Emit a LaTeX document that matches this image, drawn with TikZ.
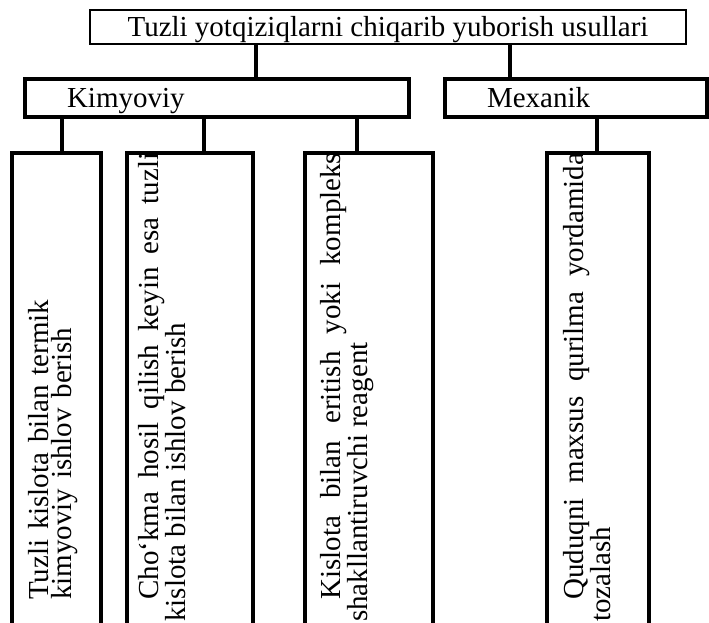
\documentclass[tikz,border=0pt]{standalone}
\usepackage{fontspec}
\setmainfont{Liberation Serif}
\usepackage{tikz}

\begin{document}
\begin{tikzpicture}[x=1pt, y=-1pt,
  sarlavha/.style={draw, line width=1.2pt, outer sep=0pt, inner sep=0pt,
                   minimum width=596pt, minimum height=34pt,
                   text height=22pt, text depth=2pt,
                   font=\fontsize{29}{34}\selectfont},
  tur/.style={draw, line width=3.5pt, outer sep=0pt, inner xsep=42pt,
              inner ysep=0pt, minimum height=38pt, align=left,
              text height=22pt, text depth=2pt,
              anchor=north west, font=\fontsize{29}{34}\selectfont},
  usul/.style={draw, line width=3.5pt, outer sep=0pt, minimum height=480pt,
               anchor=north west},
  matn/.style={rotate=90, anchor=north west, inner sep=0pt,
               font=\fontsize{29}{23}\selectfont},
  chiziq/.style={line width=3.5pt}]
  \useasboundingbox (0,0) rectangle (709,623);
  \clip (0,0) rectangle (709,623);
  % sarlavha va ikki tur
  \node[sarlavha] (bosh) at (388,27)
    {Tuzli yotqiziqlarni chiqarib yuborish usullari};
  \node[tur, text width=300pt] (kimyo) at (25,79) {Kimyoviy};
  \node[tur, text width=178pt] (mexan) at (445,79) {Mexanik};
  % usullar
  \node[usul, minimum width=89pt] (u1) at (12,153) {};
  \node[usul, minimum width=126pt] (u2) at (127,153) {};
  \node[usul, minimum width=128pt] (u3) at (305,153) {};
  \node[usul, minimum width=102pt] (u4) at (547,153) {};
  \node[matn, text width=320pt, align=left] (m1) at (28,600)
    {Tuzli kislota bilan termik\\kimyoviy ishlov berish};
  \node[matn, text width=469pt, align=justify] (m2) at (138,622)
    {\hspace*{22pt}Cho‘kma hosil qilish keyin esa tuzli kislota bilan ishlov berish};
  \node[matn, text width=469pt, align=justify] (m3) at (320,622)
    {\hspace*{22pt}Kislota bilan eritish yoki kompleks shakllantiruvchi reagent};
  \node[matn, text width=469pt, align=justify] (m4) at (563,622)
    {\hspace*{22pt}Quduqni maxsus qurilma yordamida tozalash};
  % bog'lovchi chiziqlar
  \foreach \a/\b/\x in {bosh/kimyo/256, bosh/mexan/510, kimyo/u1/62,
                        kimyo/u2/204, kimyo/u3/357, mexan/u4/597}
    \draw[chiziq] (\a.south -| \x,0) -- (\b.north -| \x,0);
\end{tikzpicture}
\end{document}
